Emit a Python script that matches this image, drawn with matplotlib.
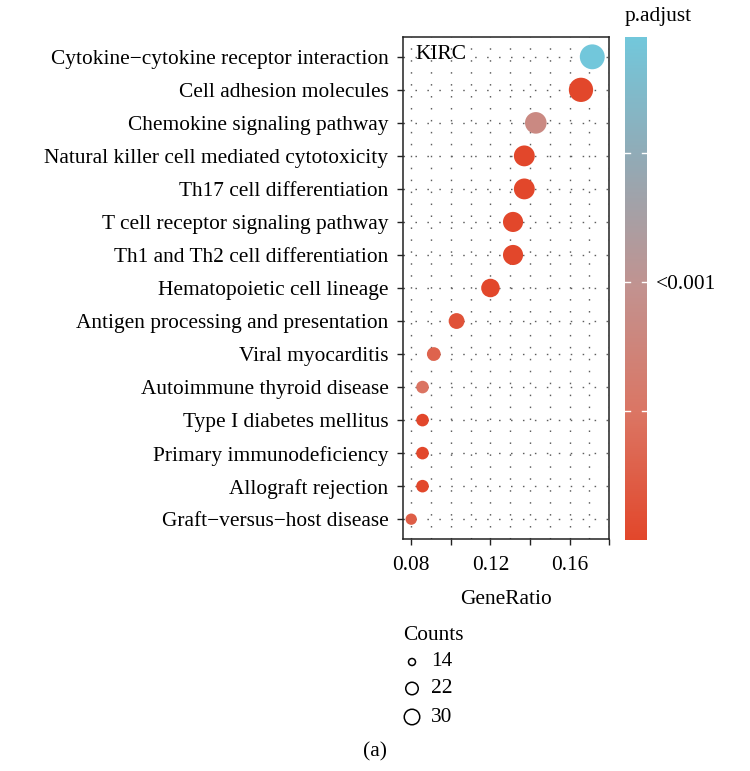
import numpy as np
import matplotlib
matplotlib.use("Agg")
import matplotlib.pyplot as plt
from matplotlib.colors import LinearSegmentedColormap, Normalize
from matplotlib.cm import ScalarMappable

# KEGG enrichment results (KIRC), listed top to bottom
pathways = [
    "Cytokine\u2212cytokine receptor interaction",
    "Cell adhesion molecules",
    "Chemokine signaling pathway",
    "Natural killer cell mediated cytotoxicity",
    "Th17 cell differentiation",
    "T cell receptor signaling pathway",
    "Th1 and Th2 cell differentiation",
    "Hematopoietic cell lineage",
    "Antigen processing and presentation",
    "Viral myocarditis",
    "Autoimmune thyroid disease",
    "Type I diabetes mellitus",
    "Primary immunodeficiency",
    "Allograft rejection",
    "Graft\u2212versus\u2212host disease",
]
gene_ratio = [0.1714, 0.1657, 0.1429, 0.1371, 0.1371, 0.1314, 0.1314,
              0.1200, 0.1029, 0.0914, 0.0857, 0.0857, 0.0857, 0.0857, 0.0800]
counts = [30, 29, 25, 24, 24, 23, 23, 21, 18, 16, 15, 15, 15, 15, 14]
p_adjust = [7.8e-5, 2.0e-9, 3.3e-5, 4.0e-9, 6.0e-9, 8.0e-9, 1.0e-8,
            1.5e-8, 4.7e-6, 1.2e-5, 1.95e-5, 3.0e-8, 5.0e-8, 8.0e-8, 1.0e-5]
x_ticks = [0.08, 0.10, 0.12, 0.14, 0.16, 0.18]
x_tick_labels = ["0.08", "", "0.12", "", "0.16", ""]
cbar_ticks = [2e-5, 4e-5, 6e-5]
cbar_tick_labels = ["", "<0.001", ""]
legend_counts = [14, 22, 30]
panel_tag = "KIRC"

W, H, DPI = 750, 771, 100
FONT = "Liberation Serif"
FS = 15.4
plt.rcParams["font.family"] = [FONT, "DejaVu Serif"]

fig = plt.figure(figsize=(W / DPI, H / DPI), dpi=DPI)


def fx(px):
    return px / W


def fy(py):
    return 1 - py / H


ax = fig.add_axes([fx(402.7), fy(539), fx(609.3) - fx(402.7), fy(37) - fy(539)])

cmap = LinearSegmentedColormap.from_list(
    "padj",
    [(0.0, "#E2472B"), (0.25, "#DB7563"), (0.5, "#C2928F"),
     (0.75, "#93A9B4"), (1.0, "#72C7DB")])
norm = Normalize(vmin=min(p_adjust), vmax=max(p_adjust))

# point area grows linearly with gene count
d_min_px, d_max_px = 11.3, 24.9
cmin, cmax = min(counts), max(counts)


def area_pt2(c):
    a_min = (d_min_px * 72 / DPI) ** 2
    a_max = (d_max_px * 72 / DPI) ** 2
    return a_min + (c - cmin) / (cmax - cmin) * (a_max - a_min)


n = len(pathways)
ypos = np.arange(n)

# dotted background grid
grid_kw = dict(color="#5e5e5e", lw=1.0, linestyle=(0, (1.1, 7.5)), zorder=0)
for gx in np.arange(0.08, 0.1801, 0.01):
    ax.axvline(gx, **grid_kw)
for gy in ypos:
    ax.axhline(gy, **grid_kw)

ax.scatter(gene_ratio, ypos, s=[area_pt2(c) for c in counts],
           c=p_adjust, cmap=cmap, norm=norm, edgecolors="none", zorder=3)

ax.set_ylim(n - 1 + 0.6, -0.6)
ax.set_xlim(0.0757, 0.18)
ax.set_yticks(ypos)
ax.set_yticklabels(pathways, fontsize=FS)
ax.set_xticks(x_ticks)
ax.set_xticklabels(x_tick_labels, fontsize=FS)
ax.tick_params(axis="both", length=4.3, width=1.0, color="#222222")
ax.tick_params(axis="y", pad=6)
ax.tick_params(axis="x", pad=8)
ax.set_xlabel("GeneRatio", fontsize=FS, labelpad=11)
for sp in ax.spines.values():
    sp.set_linewidth(1.1)
    sp.set_color("#222222")
ax.text(0.06, 0.965, panel_tag, transform=ax.transAxes, fontsize=FS,
        ha="left", va="center")

# colour bar
cax = fig.add_axes([fx(625), fy(540), fx(647) - fx(625), fy(37) - fy(540)])
sm = ScalarMappable(norm=norm, cmap=cmap)
cb = fig.colorbar(sm, cax=cax, ticks=cbar_ticks)
cb.outline.set_visible(False)
cb.ax.set_yticklabels(cbar_tick_labels, fontsize=FS)
cb.ax.tick_params(length=0, pad=6.5)
for t in cbar_ticks:
    cax.plot([0, 0.22], [t, t], color="white", lw=1.0, zorder=5)
    cax.plot([0.78, 1.0], [t, t], color="white", lw=1.0, zorder=5)
fig.text(fx(625), fy(17), "p.adjust", fontsize=FS, ha="left", va="center")

# size legend
lax = fig.add_axes([0, 0, 1, 1])
lax.set_xlim(0, W)
lax.set_ylim(H, 0)
lax.axis("off")
lax.text(403, 636, "Counts", fontsize=FS, ha="left", va="center")
leg_d = {14: 7, 22: 12.5, 30: 15.5}
leg_y = [662, 688.5, 717]
for c, yy in zip(legend_counts, leg_y):
    d = leg_d[c]
    lax.scatter([412], [yy], s=(d * 72 / DPI) ** 2, facecolors="none",
                edgecolors="black", linewidths=1.1)
    lax.text(431, yy, str(c), fontsize=FS, ha="left", va="center")
lax.text(375, 752, "(a)", fontsize=FS, ha="center", va="center")

fig.savefig("out.png", dpi=DPI)
